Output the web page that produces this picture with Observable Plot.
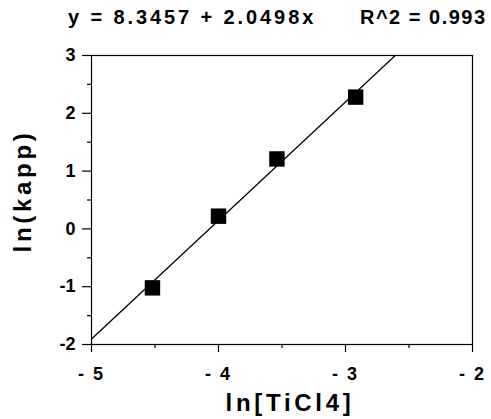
<!DOCTYPE html>
<html>
<head>
<meta charset="utf-8">
<script src="https://cdn.jsdelivr.net/npm/d3@7"></script>
<script src="https://cdn.jsdelivr.net/npm/@observablehq/plot@0.6"></script>
<style>
  body { margin: 0; background: #fff; font-family: "Liberation Sans", Arial, sans-serif; }
  #title { height: 30px; width: 491px; position: relative; }
  #title span { position: absolute; top: 7px; font-weight: bold; font-size: 20px; white-space: pre; color: #000; line-height: 1; }
  #t1 { left: 68px; letter-spacing: 2.9px; }
  #t2 { left: 360px; letter-spacing: 1.5px; }
  #chart svg g[aria-label="y-axis tick label"] text { font-size: 18px; font-weight: bold; }
  #chart svg g[aria-label="x-axis tick label"] text { font-size: 18px; font-weight: bold; letter-spacing: 2px; }
  #chart svg .axtitle { font-size: 24px; font-weight: bold; letter-spacing: 3.7px; }
</style>
</head>
<body>
<div id="title"><span id="t1">y = 8.3457 + 2.0498x</span><span id="t2">R^2 = 0.993</span></div>
<div id="chart"></div>
<script>
const lnTiCl4 = [-4.52, -4.00, -3.54, -2.92];
const lnKapp = [-1.02, 0.22, 1.21, 2.28];
const intercept = 8.3457;
const slope = 2.0498;
const xMajorTicks = [-5, -4, -3, -2];
const xMinorTicks = [-4.5, -3.5, -2.5];
const yMajorTicks = [-2, -1, 0, 1, 2, 3];
const yMinorTicks = [-1.5, -0.5, 0.5, 1.5, 2.5];
const xTitle = "ln[TiCl4]";
const yTitle = "ln(kapp)";

const points = lnTiCl4.map((x, i) => ({x, y: lnKapp[i]}));
const fitLine = [-5, -2].map(x => ({x, y: intercept + slope * x}));

const chart = Plot.plot({
  width: 491,
  height: 389,
  marginTop: 25,
  marginLeft: 91,
  marginRight: 19,
  marginBottom: 75,
  style: {fontFamily: '"Liberation Sans", Arial, sans-serif', fontWeight: "bold", color: "#000", background: "#fff"},
  x: {domain: [-5, -2]},
  y: {domain: [-2, 3]},
  marks: [
    Plot.frame({stroke: "#000", strokeWidth: 1.2}),
    Plot.axisX(xMinorTicks, {tickSize: 4, tickFormat: () => "", label: null, strokeWidth: 1.2}),
    Plot.axisX(xMajorTicks, {tickSize: 8, tickPadding: 15, tickFormat: d => d < 0 ? "- " + Math.abs(d) : String(d), label: null, strokeWidth: 1.2}),
    Plot.axisY(yMinorTicks, {tickSize: 4, tickFormat: () => "", label: null, strokeWidth: 1.2}),
    Plot.axisY(yMajorTicks, {tickSize: 9, tickPadding: 7, tickFormat: d => String(d), label: null, strokeWidth: 1.2}),
    Plot.text([xTitle], {frameAnchor: "bottom", lineAnchor: "bottom", textAnchor: "middle", text: d => d, dy: 66, dx: 8, fill: "#000"}),
    Plot.text([yTitle], {frameAnchor: "left", lineAnchor: "bottom", textAnchor: "middle", text: d => d, rotate: -90, dx: -61, dy: -9, fill: "#000"}),
    Plot.line(fitLine, {x: "x", y: "y", stroke: "#000", strokeWidth: 1.3, clip: true}),
    Plot.dot(points, {x: "x", y: "y", symbol: "square", r: 8.7, fill: "#000", stroke: "none"})
  ]
});
document.getElementById("chart").appendChild(chart);
chart.querySelectorAll("text").forEach(t => {
  if (t.textContent === xTitle || t.textContent === yTitle) t.classList.add("axtitle");
});
</script>
</body>
</html>
